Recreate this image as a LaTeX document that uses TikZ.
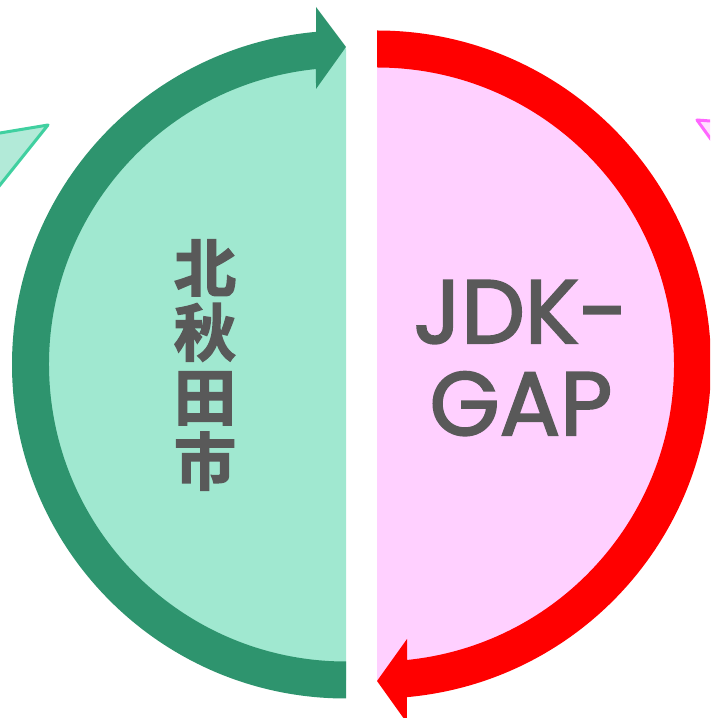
\documentclass[tikz,border=0pt]{standalone}
\usepackage{fontspec}
\setmainfont{Poppins}
\newfontfamily\deco{Poppins}[FakeBold=2.2]
\newfontfamily\cjk{Noto Sans CJK JP}[BoldFont={* Bold}, BoldFeatures={FakeBold=2.5}]
\usetikzlibrary{calc}
\definecolor{dgreen}{RGB}{46,148,110}
\definecolor{lgreen}{RGB}{160,232,208}
\definecolor{tgreenline}{RGB}{64,208,160}
\definecolor{tgreenfill}{RGB}{178,234,216}
\definecolor{lpink}{RGB}{255,208,255}
\definecolor{tpinkline}{RGB}{255,102,255}
\definecolor{tpinkfill}{RGB}{255,224,255}
\definecolor{tgray}{RGB}{89,89,89}
\tikzset{
  trigreen/.style={draw=tgreenline, fill=tgreenfill, line width=3pt, line join=round},
  tripink/.style={draw=tpinkline, fill=tpinkfill, line width=3pt, line join=round},
  labeltext/.style={text=tgray, align=center, inner sep=0pt}
}
\begin{document}
\begin{tikzpicture}[x=1pt,y=1pt]
\useasboundingbox (0,0) rectangle (710,718);
\begin{scope}
\clip (0,0) rectangle (710,718);
% side triangles
\draw[trigreen] (48,593) -- (-40,578.3) -- (-40,483) -- cycle;
\draw[tripink] (697,598) -- (750,594) -- (750,524.6) -- cycle;
% centers
\coordinate (cg) at (346,353.5);
\coordinate (cr) at (377,353.5);
% half-disc fills
\fill[lgreen] ($(cg)+(90:316)$) arc[start angle=90, end angle=270, radius=316] -- cycle;
\fill[lpink] ($(cr)+(90:316)$) arc[start angle=90, end angle=-90, radius=316] -- cycle;
% green arrow band
\fill[dgreen] ($(cg)+(270:334)$) arc[start angle=270, end angle=95.15, radius=334]
  -- (316,711) -- (346,671) -- (316,629)
  -- ($(cg)+(95.8:297)$) arc[start angle=95.8, end angle=270, radius=297] -- cycle;
% red arrow band
\fill[red] ($(cr)+(90:334)$) arc[start angle=90, end angle=-84.85, radius=334]
  -- (407,-5) -- (377,37) -- (407,79)
  -- ($(cr)+(-84.2:297)$) arc[start angle=-84.2, end angle=90, radius=297] -- cycle;
\end{scope}
% texts
\node[labeltext, font={\cjk\bfseries\fontsize{62}{64.5}\selectfont}] (kita) at (205,353) {北\\秋\\田\\市};
\node[labeltext, font={\deco\fontsize{90}{92}\selectfont}] (jdk) at (521,360) {JDK-\\GAP};
\end{tikzpicture}
\end{document}
